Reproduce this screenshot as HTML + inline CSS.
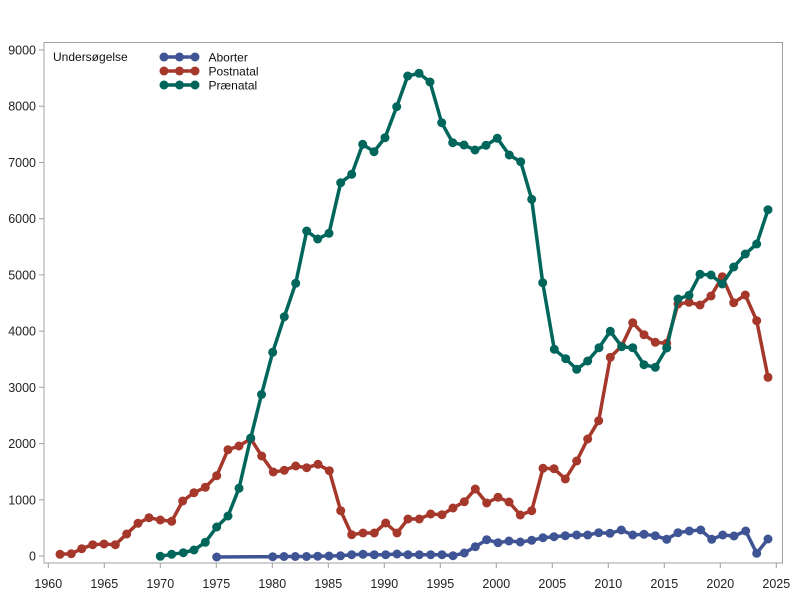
<!DOCTYPE html>
<html><head><meta charset="utf-8"><style>
html,body{margin:0;padding:0;background:#fff;}
svg{display:block;font-family:"Liberation Sans",sans-serif;}
</style></head><body>
<svg width="800" height="600" viewBox="0 0 800 600" xmlns="http://www.w3.org/2000/svg">
<rect width="800" height="600" fill="#fff"/>
<rect x="44" y="42.5" width="738.5" height="520.5" fill="none" stroke="#a0a0a0" stroke-width="1"/>
<g stroke="#a0a0a0" stroke-width="1">
<line x1="39" y1="556" x2="44" y2="556"/><line x1="39" y1="499.8" x2="44" y2="499.8"/><line x1="39" y1="443.6" x2="44" y2="443.6"/><line x1="39" y1="387.3" x2="44" y2="387.3"/><line x1="39" y1="331.1" x2="44" y2="331.1"/><line x1="39" y1="274.9" x2="44" y2="274.9"/><line x1="39" y1="218.7" x2="44" y2="218.7"/><line x1="39" y1="162.5" x2="44" y2="162.5"/><line x1="39" y1="106.2" x2="44" y2="106.2"/><line x1="39" y1="50" x2="44" y2="50"/>
<line x1="48.3" y1="563" x2="48.3" y2="568"/><line x1="104.3" y1="563" x2="104.3" y2="568"/><line x1="160.3" y1="563" x2="160.3" y2="568"/><line x1="216.3" y1="563" x2="216.3" y2="568"/><line x1="272.3" y1="563" x2="272.3" y2="568"/><line x1="328.3" y1="563" x2="328.3" y2="568"/><line x1="384.3" y1="563" x2="384.3" y2="568"/><line x1="440.3" y1="563" x2="440.3" y2="568"/><line x1="496.3" y1="563" x2="496.3" y2="568"/><line x1="552.3" y1="563" x2="552.3" y2="568"/><line x1="608.3" y1="563" x2="608.3" y2="568"/><line x1="664.3" y1="563" x2="664.3" y2="568"/><line x1="720.3" y1="563" x2="720.3" y2="568"/><line x1="776.3" y1="563" x2="776.3" y2="568"/>
</g>
<g font-size="12.5" fill="#222" text-anchor="end">
<text x="36" y="560.5">0</text><text x="36" y="504.3">1000</text><text x="36" y="448.1">2000</text><text x="36" y="391.8">3000</text><text x="36" y="335.6">4000</text><text x="36" y="279.4">5000</text><text x="36" y="223.2">6000</text><text x="36" y="167">7000</text><text x="36" y="110.7">8000</text><text x="36" y="54.5">9000</text>
</g>
<g font-size="12.5" fill="#222" text-anchor="middle">
<text x="48.3" y="588">1960</text><text x="104.3" y="588">1965</text><text x="160.3" y="588">1970</text><text x="216.3" y="588">1975</text><text x="272.3" y="588">1980</text><text x="328.3" y="588">1985</text><text x="384.3" y="588">1990</text><text x="440.3" y="588">1995</text><text x="496.3" y="588">2000</text><text x="552.3" y="588">2005</text><text x="608.3" y="588">2010</text><text x="664.3" y="588">2015</text><text x="720.3" y="588">2020</text><text x="776.3" y="588">2025</text>
</g>
<g id="abo" stroke="#3e5494" fill="#3e5494">
<polyline fill="none" stroke-width="3.5" stroke-linejoin="round" points="216.7,557 272.7,556.7 284,556.5 295.3,556.5 306.5,556.5 317.7,556.2 329,556 340.5,555.8 351.7,554.7 363,554.3 374.3,554.7 385.7,554.7 397,554 408,554.7 419.3,554.7 430.7,554.7 442,554.7 453,555.7 464.3,553 475.3,546.7 486.7,539.7 498,542.7 509,541 520.3,542 531.7,540.3 543,537.7 554,536.7 565.3,535.7 576.7,535 587.7,535 598.7,532.7 610,533.3 621.3,530 632.7,535 644,534.3 655.3,535.7 666.7,539.3 678,532.7 689.3,531 700.7,530 711.7,539.3 722.7,535 734,536 745.7,531 756.7,553.3 768,539"/>
</g>
<g id="post" stroke="#a5382b" fill="#a5382b">
<polyline fill="none" stroke-width="3.5" stroke-linejoin="round" points="60,554.3 71.3,553.7 81.7,548.7 92.7,544.7 104,544 115.3,544.7 126.7,534 138,523.3 149,517.7 160.3,520 171.7,521.3 182.7,501 194,492.7 205.3,487.3 216.7,475.7 228,449.7 239,446 250.7,438.7 261.7,456 273.3,472 284.3,470.3 295.7,466 306.7,467.7 318,464.3 329.3,470.7 340.7,510.7 351.7,534.7 363,533 374.3,533 385.7,523 397,533 408,519 419.3,519 430.7,514 442,514.7 453,508 464.3,501.7 475.3,489 486.7,503 498,497.3 509,502 520.3,515 531.7,510.7 543,468.3 554,468.7 565.3,479 576.7,461 587.7,439 598.7,420.7 610.3,357.3 621.7,346 632.7,322.7 644,334.7 655.3,342.3 666.7,343.3 678,304 689,302.3 700,305 711,296 722.3,276.7 733.7,302.7 745.3,295 756.7,320.7 768,377.3"/>
</g>
<g id="pre" stroke="#00665c" fill="#00665c">
<polyline fill="none" stroke-width="3.5" stroke-linejoin="round" points="160.3,556.3 171.7,554.3 183.3,552.7 194,550 205.3,542.3 216.7,527 228,516 239,488.3 250.7,438 261.5,394.5 272.7,352.3 284.3,316.7 295.7,283.3 306.7,231 317.7,239 329,233.3 340.7,182.7 351.7,174.3 362.7,144.3 374,151.7 385,137.7 396.7,106.7 407.7,76 419,73.3 430,82 441.7,122.7 452.7,142.7 464,145 475,150 486,145.3 497.3,138.3 509.3,155 520.7,161.7 531.7,199.3 542.7,282.7 554.3,349.3 565.7,358.7 576.7,369.3 587.7,361 599,347.7 610.3,331.3 621.7,346.7 632.7,347.7 644,364.7 655.3,367.3 666.7,348 678,299 689,295.3 700,274.3 711,275 722.3,284 733.7,267 745.3,254 756.7,244 768,209.7"/>
</g>
<g font-size="12" fill="#111">
<text x="53" y="61">Undersøgelse</text>
<text x="208.5" y="61.5">Aborter</text>
<text x="208.5" y="75.5">Postnatal</text>
<text x="208.5" y="89.5">Prænatal</text>
</g>
<g stroke-width="3.5">
<line x1="160" y1="57" x2="199" y2="57" stroke="#3e5494"/>
<line x1="160" y1="71" x2="199" y2="71" stroke="#a5382b"/>
<line x1="160" y1="85" x2="199" y2="85" stroke="#00665c"/>
</g>
<g fill="#3e5494"><circle cx="164" cy="57" r="4.5"/><circle cx="179.5" cy="57" r="4.5"/><circle cx="195" cy="57" r="4.5"/></g>
<g fill="#a5382b"><circle cx="164" cy="71" r="4.5"/><circle cx="179.5" cy="71" r="4.5"/><circle cx="195" cy="71" r="4.5"/></g>
<g fill="#00665c"><circle cx="164" cy="85" r="4.5"/><circle cx="179.5" cy="85" r="4.5"/><circle cx="195" cy="85" r="4.5"/></g>
<script>
(function(){
  ['abo','post','pre'].forEach(function(id){
    var g=document.getElementById(id);
    var pl=g.querySelector('polyline');
    var pts=pl.getAttribute('points').trim().split(/\s+/);
    pts.forEach(function(p){
      var xy=p.split(',');
      var c=document.createElementNS('http://www.w3.org/2000/svg','circle');
      c.setAttribute('cx',xy[0]);c.setAttribute('cy',xy[1]);c.setAttribute('r','4.5');c.setAttribute('stroke','none');
      g.appendChild(c);
    });
  });
})();
</script>
</svg>
</body></html>
